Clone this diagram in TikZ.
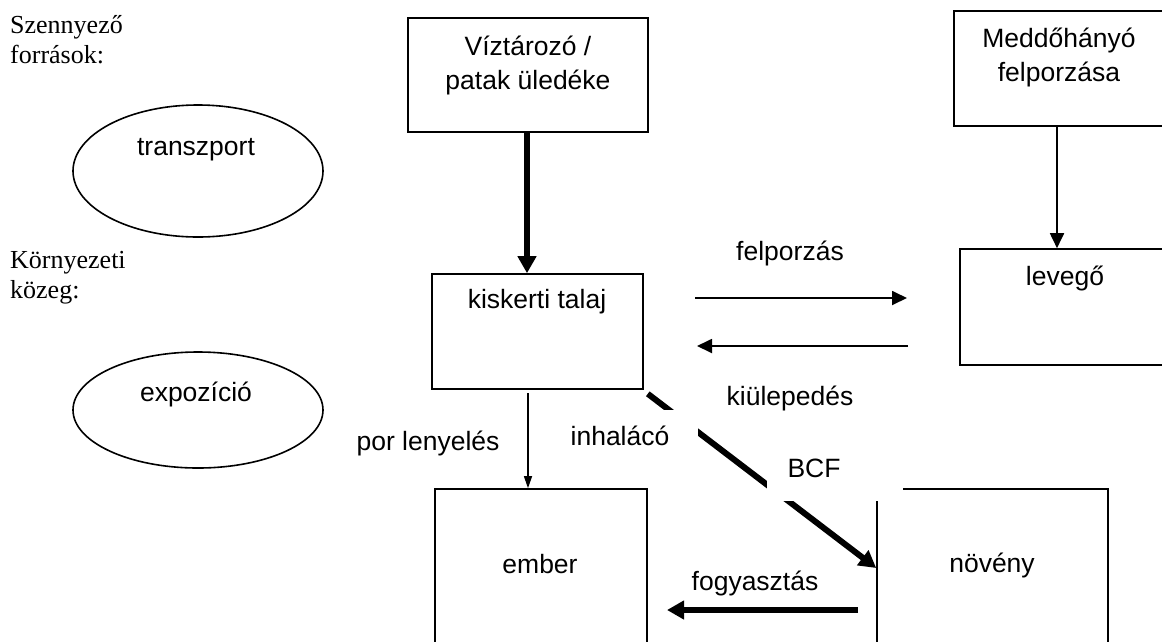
\documentclass[tikz,border=0pt]{standalone}
\usepackage{fontspec}
\setmainfont{Liberation Serif}
\setsansfont{Liberation Sans}
\usetikzlibrary{arrows.meta,shapes.geometric}
\tikzset{
  box/.style={draw, line width=1.6pt, inner sep=0pt, rectangle},
  ell/.style={draw, line width=1.6pt, inner sep=0pt, ellipse},
  sl/.style={font=\sffamily\fontsize{26.5}{30}\selectfont, anchor=base, inner sep=0pt},
  serl/.style={font=\rmfamily\fontsize{26}{30}\selectfont, anchor=base west, inner sep=0pt},
  thick arrow/.style={line width=6pt, -{Triangle[length=17pt,width=18pt]}},
  thin arrow/.style={line width=1.8pt, -{Triangle[length=15pt,width=14pt]}},
  hair arrow/.style={line width=1.3pt, -{Triangle[length=12pt,width=8pt]}},
  maskbox/.style={fill=white, draw=none, inner sep=0pt, rectangle}
}
\begin{document}
\begin{tikzpicture}[x=1pt,y=-1pt]
\useasboundingbox (0,0) rectangle (1162,641);
\fill[white] (0,0) rectangle (1162,641);
\clip (0,0) rectangle (1162,641);

% boxes
\node[box, minimum width=240pt, minimum height=114pt] (vz) at (528,75) {};
\node[box, minimum width=212pt, minimum height=115pt] (md) at (1060,68.5) {};
\node[box, minimum width=210pt, minimum height=116pt] (lv) at (1065,307) {};
\node[box, minimum width=211pt, minimum height=115pt] (kt) at (537.5,331.5) {};
\node[box, minimum width=212pt, minimum height=191pt] (em) at (541,584.5) {};
\node[box, minimum width=231pt, minimum height=191pt] (nv) at (992.5,584.5) {};

% ellipses
\node[ell, minimum width=250pt, minimum height=132pt] (tr) at (198,171) {};
\node[ell, minimum width=250pt, minimum height=116pt] (ex) at (198,410) {};

% connector end points
\coordinate (f1) at (695,298);
\coordinate (f2) at (907,298);
\coordinate (k1) at (908,346);
\coordinate (k2) at (697,346);
\coordinate (p1) at (528,393);
\coordinate (g1) at (858,610);
\coordinate (g2) at (667,610);

% connectors
\draw[thick arrow] ([xshift=-1pt]vz.south) -- ([xshift=-1pt]vz.south |- kt.north);
\draw[thin arrow] ([xshift=-3pt]md.south) -- ([xshift=-3pt]md.south |- lv.north);
\draw[thin arrow] (f1) -- (f2);
\draw[thin arrow] (k1) -- (k2);
\draw[hair arrow] (p1) -- (p1 |- em.north);
\draw[thick arrow] ([shift={(4pt,-4pt)}]kt.south east) -- ([yshift=16.5pt]nv.west);
\draw[thick arrow] (g1) -- (g2);

% white label backgrounds that interrupt lines
\node[maskbox, minimum width=128pt, minimum height=40pt] (m1) at (634,430) {};
\node[maskbox, minimum width=136pt, minimum height=46pt] (m2) at (835,478) {};

% texts
\node[serl] (s1) at (10,33) {Szennyező};
\node[serl] (s2) at (10,63) {források:};
\node[serl] (s3) at (10,268) {Környezeti};
\node[serl] (s4) at (10,298) {közeg:};

\node[sl] (t1) at (528,55) {Víztározó /};
\node[sl] (t2) at (528,89) {patak üledéke};
\node[sl] (t3) at (1059,47) {Meddőhányó};
\node[sl] (t4) at (1059,81) {felporzása};
\node[sl] (t5) at (1065,285) {levegő};
\node[sl] (t6) at (537,308) {kiskerti talaj};
\node[sl] (t7) at (540,573) {ember};
\node[sl] (t8) at (992,572) {növény};
\node[sl] (t9) at (196,155) {transzport};
\node[sl] (t10) at (196,401) {expozíció};
\node[sl] (t11) at (790,260) {felporzás};
\node[sl] (t12) at (790,405) {kiülepedés};
\node[sl] (t13) at (428,450) {por lenyelés};
\node[sl] (t14) at (620,445) {inhalácó};
\node[sl] (t15) at (814,477) {BCF};
\node[sl] (t16) at (755,590) {fogyasztás};
\end{tikzpicture}
\end{document}
